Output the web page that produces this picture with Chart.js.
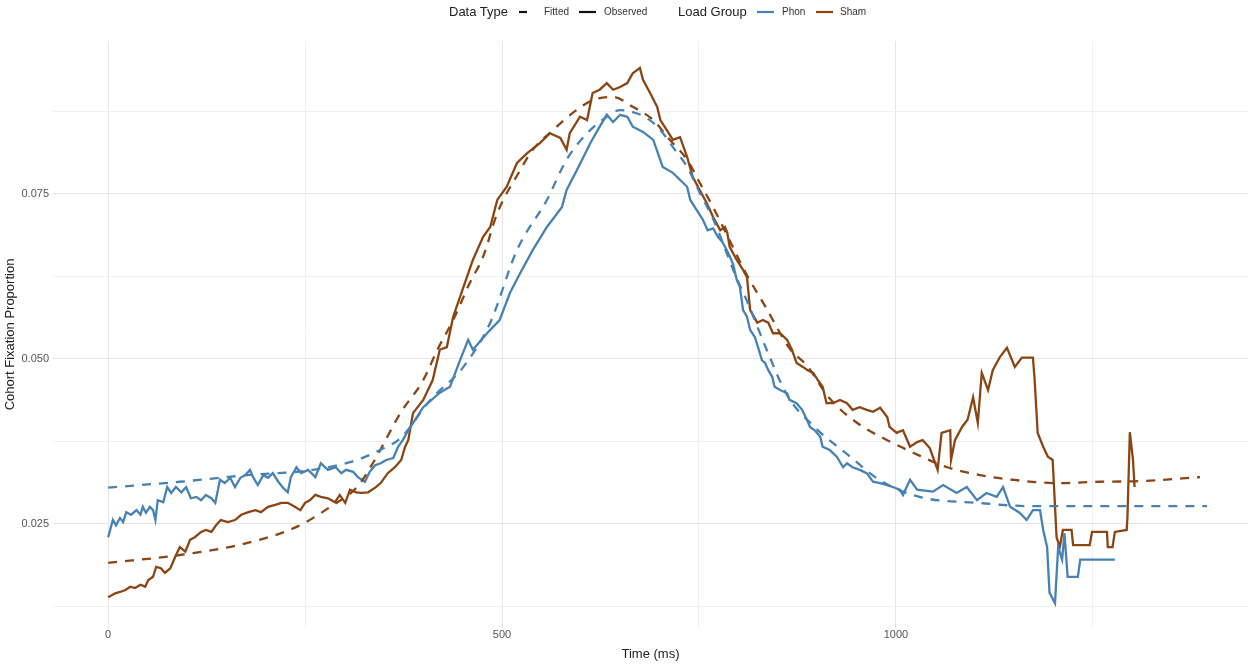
<!DOCTYPE html>
<html>
<head>
<meta charset="utf-8">
<script src="https://cdn.jsdelivr.net/npm/chart.js@4.4.1/dist/chart.umd.min.js"></script>
<style>
  body { margin: 0; background: #fff; }
  #wrap { position: relative; width: 1250px; height: 664px; font-family: "Liberation Sans", Arial, sans-serif; }
  #legend span, #legend svg { position: absolute; }
  #legend span { top: 0; line-height: 24px; color: #333; white-space: nowrap; }
  #legend .ttl { font-size: 13px; color: #222; }
  #legend .itm { font-size: 10px; }
  #legend svg { top: 10px; }
  canvas { position: absolute; left: 0; top: 0; }
</style>
</head>
<body>
<div id="wrap">
  <canvas id="cohortChart" width="1250" height="664"></canvas>
  <div id="legend">
    <span class="ttl" style="left:449px">Data Type</span>
    <svg style="left:518px" width="17" height="4"><line x1="1" y1="2" x2="17" y2="2" stroke="#111" stroke-width="2.2" stroke-dasharray="8 9"/></svg>
    <span class="itm" style="left:544px">Fitted</span>
    <svg style="left:579px" width="17" height="4"><line x1="0" y1="2" x2="17" y2="2" stroke="#111" stroke-width="2.2"/></svg>
    <span class="itm" style="left:604px">Observed</span>
    <span class="ttl" style="left:678px">Load Group</span>
    <svg style="left:757px" width="17" height="4"><line x1="0" y1="2" x2="17" y2="2" stroke="#4682b4" stroke-width="2.2"/></svg>
    <span class="itm" style="left:782px">Phon</span>
    <svg style="left:816px" width="17" height="4"><line x1="0" y1="2" x2="17" y2="2" stroke="#8b4513" stroke-width="2.2"/></svg>
    <span class="itm" style="left:840px">Sham</span>
  </div>
</div>
<script>
    // observed cohort fixation proportion, Phon group
    var phonObsTime = [0,6,10,15,19,23,29,36,41,44,
        48,53,57,60,63,70,75,80,86,93,
        99,105,112,118,124,131,136,142,148,155,
        161,168,174,180,184,190,197,203,209,216,
        222,228,232,239,245,254,263,270,279,289,
        296,302,311,317,326,332,339,346,353,362,
        368,374,381,387,400,421,434,447,457,463,
        481,497,510,523,539,557,576,582,595,612,
        624,633,641,650,659,666,679,692,704,717,
        735,739,747,755,761,768,774,780,787,793,
        798,802,806,811,815,821,825,830,834,838,
        843,846,853,862,865,874,881,887,891,897,
        904,907,916,925,933,938,945,954,963,971,
        980,989,996,1005,1009,1018,1027,1047,1060,1077,
        1090,1103,1115,1128,1136,1145,1157,1166,1174,1183,
        1187,1192,1195,1202,1206,1211,1214,1218,1231,1234,
        1278];
    var phonObsProp = [0.0230,0.0256,0.0248,0.0259,0.0253,0.0268,0.0264,0.0271,0.0264,0.0276,
        0.0267,0.0276,0.0271,0.0256,0.0286,0.0283,0.0306,0.0297,0.0306,0.0298,
        0.0306,0.0289,0.0291,0.0286,0.0294,0.0289,0.0282,0.0317,0.0312,0.0320,
        0.0306,0.0320,0.0324,0.0332,0.0321,0.0309,0.0324,0.0320,0.0327,0.0314,
        0.0305,0.0298,0.0321,0.0336,0.0327,0.0332,0.0321,0.0342,0.0332,0.0336,
        0.0327,0.0332,0.0329,0.0321,0.0314,0.0329,0.0339,0.0342,0.0347,0.0350,
        0.0367,0.0377,0.0392,0.0403,0.0427,0.0449,0.0458,0.0499,0.0529,0.0514,
        0.0539,0.0559,0.0600,0.0630,0.0665,0.0700,0.0730,0.0756,0.0786,0.0827,
        0.0852,0.0870,0.0859,0.0870,0.0867,0.0852,0.0844,0.0832,0.0791,0.0782,
        0.0761,0.0741,0.0726,0.0711,0.0695,0.0698,0.0685,0.0677,0.0661,0.0645,
        0.0620,0.0609,0.0574,0.0564,0.0544,0.0533,0.0518,0.0498,0.0494,0.0483,
        0.0473,0.0458,0.0453,0.0448,0.0438,0.0433,0.0423,0.0408,0.0397,0.0392,
        0.0382,0.0367,0.0362,0.0352,0.0336,0.0342,0.0336,0.0332,0.0327,0.0314,
        0.0312,0.0309,0.0306,0.0302,0.0294,0.0317,0.0302,0.0299,0.0309,0.0297,
        0.0306,0.0286,0.0297,0.0291,0.0306,0.0276,0.0267,0.0256,0.0271,0.0271,
        0.0241,0.0215,0.0146,0.0130,0.0215,0.0196,0.0236,0.0170,0.0170,0.0196,
        0.0196];

    // observed, Sham group
    var shamObsTime = [0,9,15,22,28,34,41,47,51,57,
        61,67,72,79,85,91,98,104,110,118,
        124,131,137,143,152,161,169,178,187,194,
        203,212,220,228,237,244,250,256,263,270,
        279,288,294,301,307,315,321,330,339,346,
        355,364,372,377,381,387,400,412,421,430,
        438,451,463,476,485,494,506,519,532,548,
        561,574,582,586,599,608,615,624,633,641,
        650,659,666,675,679,688,697,701,709,717,
        726,735,742,751,760,768,777,783,786,789,
        798,806,811,815,824,831,838,844,853,862,
        868,874,882,888,895,901,907,912,920,929,
        938,945,954,963,971,980,989,992,1001,1009,
        1018,1027,1034,1043,1053,1058,1069,1070,1075,1084,
        1091,1098,1104,1109,1117,1123,1132,1141,1151,1160,
        1174,1176,1180,1187,1193,1199,1204,1208,1212,1223,
        1225,1246,1249,1268,1269,1275,1278,1293,1294,1297,
        1301,1303];
    var shamObsProp = [0.0139,0.0145,0.0147,0.0150,0.0155,0.0153,0.0158,0.0155,0.0165,0.0170,
        0.0185,0.0183,0.0176,0.0183,0.0200,0.0215,0.0208,0.0226,0.0230,0.0238,
        0.0241,0.0238,0.0248,0.0256,0.0253,0.0256,0.0264,0.0268,0.0271,0.0268,
        0.0276,0.0279,0.0282,0.0282,0.0276,0.0271,0.0282,0.0286,0.0294,0.0291,
        0.0289,0.0283,0.0294,0.0282,0.0302,0.0298,0.0297,0.0298,0.0305,0.0312,
        0.0327,0.0336,0.0347,0.0367,0.0377,0.0418,0.0438,0.0468,0.0514,0.0518,
        0.0564,0.0609,0.0650,0.0685,0.0700,0.0741,0.0761,0.0797,0.0812,0.0827,
        0.0842,0.0835,0.0817,0.0842,0.0867,0.0862,0.0903,0.0908,0.0918,0.0908,
        0.0912,0.0918,0.0933,0.0941,0.0923,0.0903,0.0882,0.0862,0.0847,0.0832,
        0.0836,0.0806,0.0776,0.0756,0.0736,0.0715,0.0695,0.0700,0.0691,0.0670,
        0.0650,0.0635,0.0624,0.0574,0.0555,0.0559,0.0555,0.0539,0.0539,0.0529,
        0.0514,0.0494,0.0488,0.0483,0.0479,0.0468,0.0458,0.0433,0.0433,0.0438,
        0.0433,0.0423,0.0427,0.0423,0.0420,0.0426,0.0412,0.0397,0.0388,0.0392,
        0.0367,0.0374,0.0377,0.0365,0.0332,0.0388,0.0392,0.0347,0.0377,0.0397,
        0.0408,0.0442,0.0403,0.0479,0.0453,0.0483,0.0503,0.0517,0.0488,0.0502,
        0.0502,0.0471,0.0388,0.0367,0.0352,0.0347,0.0230,0.0215,0.0241,0.0241,
        0.0218,0.0218,0.0238,0.0238,0.0215,0.0215,0.0238,0.0241,0.0261,0.0389,
        0.0347,0.0306];

    // model fits
    var phonFitTime = [0,91,176,260,316,345,371,409,451,485,519,557,582,608,633,650,666,684,701,717,735,751,768,798,812,836,862,894,942,980,1030,1103,1174,1259,1395];
    var phonFitProp = [0.0305,0.0314,0.0324,0.0332,0.0347,0.0362,0.0380,0.0438,0.0488,0.0555,0.0665,0.0741,0.0802,0.0842,0.0867,0.0877,0.0874,0.0865,0.0847,0.0821,0.0791,0.0752,0.0712,0.0622,0.0585,0.0514,0.0445,0.0400,0.0352,0.0316,0.0291,0.0282,0.0277,0.0277,0.0277];
    var shamFitTime = [0,91,176,240,282,316,336,371,400,418,438,459,476,494,523,539,565,590,615,641,666,692,713,735,751,768,811,836,865,887,916,951,989,1022,1065,1107,1148,1204,1259,1310,1386];
    var shamFitProp = [0.0191,0.0203,0.0221,0.0246,0.0276,0.0306,0.0342,0.0418,0.0468,0.0514,0.0559,0.0615,0.0655,0.0721,0.0786,0.0817,0.0847,0.0873,0.0892,0.0897,0.0882,0.0862,0.0832,0.0802,0.0767,0.0730,0.0627,0.0576,0.0516,0.0490,0.0440,0.0403,0.0377,0.0358,0.0336,0.0324,0.0317,0.0312,0.0314,0.0315,0.0321];

    // axis breaks: labelled majors plus minor grid lines in between
    var xGrid = [0, 250, 500, 750, 1000, 1250];
    var xLabels = [0, 500, 1000];
    var yGrid = [0.0125, 0.025, 0.0375, 0.05, 0.0625, 0.075, 0.0875];
    var yLabels = [0.025, 0.05, 0.075];

    var PHON = "#4682b4";
    var SHAM = "#8b4513";

    function points(ts, vs) {
        return ts.map(function (t, i) { return { x: t, y: vs[i] }; });
    }

    function line(label, ts, vs, color, dashed) {
        return {
            label: label,
            data: points(ts, vs),
            borderColor: color,
            borderWidth: 2.3,
            borderDash: dashed ? [9, 8] : [],
            pointRadius: 0,
            fill: false,
            cubicInterpolationMode: dashed ? "monotone" : "default",
            tension: 0
        };
    }

    function isMajor(list, v) {
        return list.some(function (m) { return Math.abs(m - v) < 1e-9; });
    }

    var canvasElement = document.getElementById("cohortChart");

    var config = {
        type: "line",
        data: {
            datasets: [
                line("Phon Fitted", phonFitTime, phonFitProp, PHON, true),
                line("Sham Fitted", shamFitTime, shamFitProp, SHAM, true),
                line("Phon Observed", phonObsTime, phonObsProp, PHON, false),
                line("Sham Observed", shamObsTime, shamObsProp, SHAM, false)
            ]
        },
        options: {
            responsive: false,
            animation: false,
            layout: { padding: { top: 41, right: 2, left: 0, bottom: 0 } },
            plugins: { legend: { display: false }, tooltip: { enabled: false } },
            scales: {
                x: {
                    type: "linear",
                    min: -70,
                    max: 1447,
                    afterBuildTicks: function (scale) {
                        scale.ticks = xGrid.map(function (v) { return { value: v }; });
                    },
                    afterFit: function (scale) { scale.height = 36; },
                    border: { display: false },
                    grid: {
                        drawTicks: false,
                        lineWidth: 1,
                        color: function (ctx) {
                            return ctx.tick && isMajor(xLabels, ctx.tick.value) ? "#e6e6e6" : "#f0f0f0";
                        }
                    },
                    ticks: {
                        autoSkip: false,
                        maxRotation: 0,
                        padding: 0,
                        color: "#555",
                        font: { family: "Liberation Sans", size: 11 },
                        callback: function (v) { return isMajor(xLabels, v) ? String(v) : ""; }
                    },
                    title: {
                        display: true,
                        text: "Time (ms)",
                        color: "#222",
                        padding: { top: 0, bottom: 2 },
                        font: { family: "Liberation Sans", size: 13 }
                    }
                },
                y: {
                    type: "linear",
                    min: 0.00924,
                    max: 0.09818,
                    afterBuildTicks: function (scale) {
                        scale.ticks = yGrid.map(function (v) { return { value: v }; });
                    },
                    afterFit: function (scale) { scale.width = 53; },
                    border: { display: false },
                    grid: {
                        drawTicks: false,
                        lineWidth: 1,
                        color: function (ctx) {
                            return ctx.tick && isMajor(yLabels, ctx.tick.value) ? "#e6e6e6" : "#f0f0f0";
                        }
                    },
                    ticks: {
                        autoSkip: false,
                        padding: 4,
                        color: "#555",
                        font: { family: "Liberation Sans", size: 11 },
                        callback: function (v) { return isMajor(yLabels, v) ? v.toFixed(3) : ""; }
                    },
                    title: {
                        display: true,
                        text: "Cohort Fixation Proportion",
                        color: "#222",
                        padding: { top: 3, bottom: 0 },
                        font: { family: "Liberation Sans", size: 13 }
                    }
                }
            }
        }
    };

    var cohortChart = new Chart(canvasElement, config);
</script>
</body>
</html>
